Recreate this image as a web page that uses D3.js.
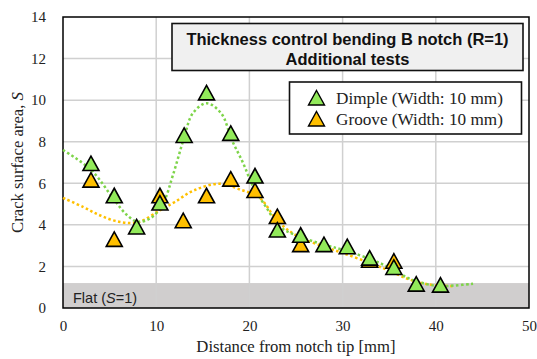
<!DOCTYPE html>
<html><head><meta charset="utf-8">
<script src="https://cdnjs.cloudflare.com/ajax/libs/d3/7.8.5/d3.min.js"></script>
<style>body{margin:0;background:#fff}svg{display:block}</style>
</head><body><div id="chart"></div>
<script>
const dimpleX = [3, 5.5, 7.9, 10.4, 13, 15.4, 18, 20.6, 23, 25.5, 28, 30.5, 32.9, 35.5, 37.9, 40.5];
const dimpleY = [6.95, 5.4, 3.9, 5.05, 8.3, 10.35, 8.4, 6.35, 3.75, 3.5, 3.05, 2.95, 2.4, 1.95, 1.15, 1.1];
const grooveX = [3, 5.5, 10.4, 12.9, 15.4, 18, 20.6, 23, 25.5, 32.9, 35.5];
const grooveY = [6.15, 3.3, 5.4, 4.2, 5.4, 6.2, 5.65, 4.4, 3.05, 2.3, 2.25];
// trendline shapes
const dimpleTrendX = [0, 3, 5.5, 6.8, 8, 9.5, 10.8, 11.8, 13, 13.9, 15.4, 17, 18.1, 19.3, 20.4, 21.8, 23.3, 25, 28, 30, 33, 35, 37, 39, 40.5, 42, 44];
const dimpleTrendY = [7.6, 6.65, 5.2, 4.5, 4.15, 4.35, 5.1, 6.4, 8.2, 9.35, 9.85, 9.35, 8.1, 7.0, 5.85, 4.85, 3.9, 3.5, 3.05, 2.8, 2.35, 1.95, 1.45, 1.15, 1.05, 1.08, 1.17];
const grooveTrendX = [0, 2.2, 4, 6, 8, 10.4, 12, 14, 16.8, 19, 21.1, 23, 25, 28, 30, 33, 35, 37, 39, 41.8];
const grooveTrendY = [5.3, 4.85, 4.45, 4.15, 4.12, 4.7, 5.1, 5.65, 5.98, 5.7, 5.3, 4.2, 3.5, 2.95, 2.65, 2.15, 1.8, 1.4, 1.15, 1.05];
const xTicks = [0, 10, 20, 30, 40, 50];
const yTicks = [0, 2, 4, 6, 8, 10, 12, 14];
const flatLevel = 1.2;
const titleLines = ["Thickness control bending B notch (R=1)", "Additional tests"];
const legendLabels = ["Dimple (Width: 10 mm)", "Groove (Width: 10 mm)"];

const W = 537, H = 359;
const m = {left: 63, top: 17, right: 8, bottom: 51};
const svg = d3.select("#chart").append("svg").attr("width", W).attr("height", H);
const x = d3.scaleLinear().domain([0, 50]).range([m.left, W - m.right]);
const y = d3.scaleLinear().domain([0, 14]).range([H - m.bottom, m.top]);

const serif = "Liberation Serif, Times New Roman, serif";
const sans = "Liberation Sans, Arial, sans-serif";
const green = "#92ea5a", greenLine = "#7ed44a", orange = "#ffc000", orangeLine = "#ffc000";

// flat band
svg.append("rect").attr("x", x(0)).attr("y", y(flatLevel)).attr("width", x(50) - x(0))
  .attr("height", y(0) - y(flatLevel)).attr("fill", "#d0cece");

// grid
svg.append("g").selectAll("line").data(yTicks.slice(1, -1)).join("line")
  .attr("x1", x(0)).attr("x2", x(50)).attr("y1", d => y(d)).attr("y2", d => y(d))
  .attr("stroke", "#d0d0d0").attr("stroke-width", 1.5);
svg.append("g").selectAll("line").data(xTicks.slice(1, -1)).join("line")
  .attr("y1", y(0)).attr("y2", y(14)).attr("x1", d => x(d)).attr("x2", d => x(d))
  .attr("stroke", "#d0d0d0").attr("stroke-width", 1.5);

svg.append("text").attr("x", x(0) + 10).attr("y", y(0) - 5.5)
  .attr("font-family", sans).attr("font-size", 14.5).attr("fill", "#222")
  .html('Flat (<tspan font-style="italic">S</tspan>=1)');

// frame
svg.append("rect").attr("x", x(0)).attr("y", y(14)).attr("width", x(50) - x(0)).attr("height", y(0) - y(14))
  .attr("fill", "none").attr("stroke", "#000").attr("stroke-width", 1.5);

// axes
const xAxis = svg.append("g").attr("transform", `translate(0,${y(0)})`)
  .call(d3.axisBottom(x).tickValues(xTicks).tickSize(0).tickPadding(12));
const yAxis = svg.append("g").attr("transform", `translate(${x(0)},0)`)
  .call(d3.axisLeft(y).tickValues(yTicks).tickSize(0).tickPadding(17));
[xAxis, yAxis].forEach(a => {
  a.select(".domain").remove();
  a.selectAll("text").attr("font-family", serif).attr("font-size", 15).attr("fill", "#222");
});

svg.append("text").attr("x", (x(0) + x(50)) / 2).attr("y", 352).attr("text-anchor", "middle")
  .attr("font-family", serif).attr("font-size", 16.7).attr("fill", "#222")
  .text("Distance from notch tip [mm]");
svg.append("text").attr("transform", `translate(23,${(y(0) + y(14)) / 2}) rotate(-90)`).attr("text-anchor", "middle")
  .attr("font-family", serif).attr("font-size", 16.7).attr("fill", "#222")
  .html('Crack surface area, <tspan font-style="italic">S</tspan>');

// trendlines
const line = d3.line().x(d => x(d[0])).y(d => y(d[1])).curve(d3.curveCatmullRom.alpha(0.5));
svg.append("path").datum(grooveTrendX.map((v, i) => [v, grooveTrendY[i]])).attr("d", line)
  .attr("fill", "none").attr("stroke", orangeLine).attr("stroke-width", 2.5).attr("stroke-dasharray", "2.5,2.5");
svg.append("path").datum(dimpleTrendX.map((v, i) => [v, dimpleTrendY[i]])).attr("d", line)
  .attr("fill", "none").attr("stroke", greenLine).attr("stroke-width", 2.5).attr("stroke-dasharray", "2.5,2.5");

// markers
const tri = (cx, cy) => `M${cx},${cy - 7.5}L${cx + 8},${cy + 7}L${cx - 8},${cy + 7}Z`;
svg.append("g").selectAll("path").data(grooveX.map((v, i) => [v, grooveY[i]])).join("path")
  .attr("d", d => tri(x(d[0]), y(d[1]))).attr("fill", orange).attr("stroke", "#000").attr("stroke-width", 1.6);
svg.append("g").selectAll("path").data(dimpleX.map((v, i) => [v, dimpleY[i]])).join("path")
  .attr("d", d => tri(x(d[0]), y(d[1]))).attr("fill", green).attr("stroke", "#000").attr("stroke-width", 1.6);

// title box
svg.append("rect").attr("x", 172).attr("y", 23.5).attr("width", 351).attr("height", 47)
  .attr("fill", "#f0f0f0").attr("stroke", "#111").attr("stroke-width", 1.6);
titleLines.forEach((t, i) => svg.append("text").attr("x", 347.5).attr("y", 45 + i * 20).attr("text-anchor", "middle")
  .attr("font-family", sans).attr("font-weight", "bold").attr("font-size", 16.5).attr("fill", "#111")
  .text(t));

// legend
svg.append("rect").attr("x", 289.5).attr("y", 82).attr("width", 232).attr("height", 52)
  .attr("fill", "#fff").attr("stroke", "#111").attr("stroke-width", 1.6);
[green, orange].forEach((c, i) => {
  const cy = 98 + i * 21;
  svg.append("path").attr("d", tri(316.5, cy)).attr("fill", c).attr("stroke", "#000").attr("stroke-width", 1.4);
  svg.append("text").attr("x", 336).attr("y", cy + 5.5)
    .attr("font-family", serif).attr("font-size", 17.2).attr("fill", "#222")
    .text(legendLabels[i]);
});
</script></body></html>
